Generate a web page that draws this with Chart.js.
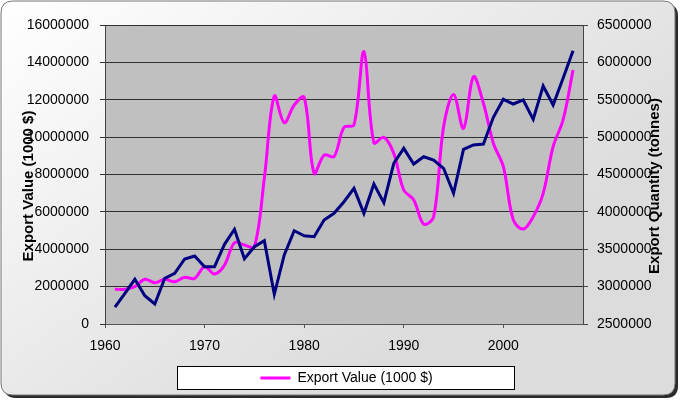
<!DOCTYPE html>
<html>
<head>
<meta charset="utf-8">
<script src="https://cdn.jsdelivr.net/npm/chart.js@4.4.1/dist/chart.umd.min.js"></script>
<style>
  html, body { margin: 0; padding: 0; background: #fff; }
  #wrap { width: 682px; height: 404px; }
</style>
</head>
<body>
<div id="wrap"><canvas id="grafica" width="682" height="404"></canvas></div>
<script>
// ── Datos ─────────────────────────────────────────────────────
const anios = [1961, 1962, 1963, 1964, 1965, 1966, 1967, 1968, 1969, 1970,
               1971, 1972, 1973, 1974, 1975, 1976, 1977, 1978, 1979, 1980,
               1981, 1982, 1983, 1984, 1985, 1986, 1987, 1988, 1989, 1990,
               1991, 1992, 1993, 1994, 1995, 1996, 1997, 1998, 1999, 2000,
               2001, 2002, 2003, 2004, 2005, 2006, 2007];

// Export Value (1000 $) – eje izquierdo
const valorExport = [1857000, 1860000, 1996000, 2390000, 2210000, 2390000, 2264000, 2499000, 2445000, 3066000,
                     2676000, 3150000, 4350000, 4230000, 4140000, 7800000, 12200000, 10770000, 11720000, 12130000,
                     8060000, 9040000, 8960000, 10530000, 10650000, 14570000, 9700000, 9990000, 9130000, 7170000,
                     6640000, 5350000, 5740000, 10560000, 12280000, 10470000, 13230000, 11810000, 9670000, 8420000,
                     5570000, 5080000, 5740000, 6990000, 9490000, 10920000, 13590000];

// Export Quantity (tonnes) – eje derecho
const cantidadExport = [2727000, 2911000, 3098000, 2879000, 2768000, 3111000, 3178000, 3370000, 3410000, 3267000,
                        3267000, 3566000, 3767000, 3374000, 3534000, 3614000, 2897000, 3423000, 3748000, 3681000,
                        3668000, 3891000, 3981000, 4136000, 4315000, 3981000, 4373000, 4123000, 4650000, 4850000,
                        4640000, 4738000, 4694000, 4583000, 4249000, 4837000, 4895000, 4908000, 5265000, 5506000,
                        5443000, 5497000, 5238000, 5684000, 5430000, 5787000, 6156000];

const etiquetaValor    = 'Export Value (1000 $)';
const etiquetaCantidad = 'Export Quantity (tonnes)';

const FUENTE = '"Liberation Sans", Arial, sans-serif';

// ── Fondo, área de gráfica y títulos ──────────────────────────
function rectRedondo(ctx, x, y, w, h, r) {
    ctx.beginPath();
    ctx.moveTo(x + r, y);
    ctx.lineTo(x + w - r, y);
    ctx.quadraticCurveTo(x + w, y, x + w, y + r);
    ctx.lineTo(x + w, y + h - r);
    ctx.quadraticCurveTo(x + w, y + h, x + w - r, y + h);
    ctx.lineTo(x + r, y + h);
    ctx.quadraticCurveTo(x, y + h, x, y + h - r);
    ctx.lineTo(x, y + r);
    ctx.quadraticCurveTo(x, y, x + r, y);
    ctx.closePath();
}

const pluginFondo = {
    id: 'fondo',
    beforeDraw(chart) {
        const { ctx, chartArea: a } = chart;
        ctx.save();
        ctx.fillStyle = '#fff';
        ctx.fillRect(0, 0, chart.width, chart.height);

        // sombra del marco
        rectRedondo(ctx, 4, 4, 674, 394, 12);
        ctx.fillStyle = '#2a2a2a';
        ctx.fill();

        // marco con degradado
        const g = ctx.createLinearGradient(0, 0, 300, 420);
        g.addColorStop(0, '#ffffff');
        g.addColorStop(1, '#dcdcdc');
        rectRedondo(ctx, 1, 1, 674, 394, 12);
        ctx.fillStyle = g;
        ctx.fill();
        ctx.strokeStyle = '#777';
        ctx.lineWidth = 1;
        ctx.stroke();

        // área de trazado
        ctx.fillStyle = '#c0c0c0';
        ctx.fillRect(a.left, a.top, a.right - a.left, a.bottom - a.top);
        ctx.strokeStyle = '#808080';
        ctx.strokeRect(a.left + 0.5, a.top + 0.5, a.right - a.left, a.bottom - a.top);

        // caja de la leyenda
        ctx.fillStyle = '#fff';
        ctx.fillRect(177, 366, 337, 23);
        ctx.strokeStyle = '#000';
        ctx.strokeRect(177.5, 366.5, 337, 23);
        ctx.restore();
    },
    afterDraw(chart) {
        const { ctx } = chart;
        ctx.save();
        ctx.fillStyle = '#000';
        ctx.font = `bold 15px ${FUENTE}`;
        ctx.textAlign = 'center';
        ctx.textBaseline = 'middle';

        ctx.translate(29, 186);
        ctx.rotate(-Math.PI / 2);
        ctx.fillText(etiquetaValor, 0, 0);
        ctx.setTransform(1, 0, 0, 1, 0, 0);

        ctx.translate(655, 186);
        ctx.rotate(-Math.PI / 2);
        ctx.fillText(etiquetaCantidad, 0, 0);
        ctx.restore();
    }
};

// ── Gráfica ───────────────────────────────────────────────────
const puntosValor    = anios.map((a, i) => ({ x: a, y: valorExport[i] }));
const puntosCantidad = anios.map((a, i) => ({ x: a, y: cantidadExport[i] }));

new Chart(document.getElementById('grafica').getContext('2d'), {
    type: 'line',
    data: {
        datasets: [
            {
                label: etiquetaValor,
                data: puntosValor,
                yAxisID: 'y',
                borderColor: '#ff00ff',
                backgroundColor: '#ff00ff',
                borderWidth: 3,
                pointRadius: 0,
                tension: 0.35,
                order: 1,
            },
            {
                label: etiquetaCantidad,
                data: puntosCantidad,
                yAxisID: 'y1',
                borderColor: '#000080',
                backgroundColor: '#000080',
                borderWidth: 3,
                pointRadius: 0,
                tension: 0,
                order: 0,
            }
        ]
    },
    options: {
        responsive: false,
        animation: false,
        layout: { padding: { left: 11, right: 0, top: 25, bottom: 9 } },
        plugins: {
            tooltip: { enabled: false },
            legend: {
                position: 'bottom',
                labels: {
                    filter: item => item.datasetIndex === 0,
                    usePointStyle: true,
                    pointStyle: 'line',
                    pointStyleWidth: 30,
                    padding: 10,
                    color: '#000',
                    font: { family: FUENTE, size: 14 },
                }
            }
        },
        scales: {
            x: {
                type: 'linear',
                min: 1960,
                max: 2008,
                afterFit: s => { s.height = 37; },
                ticks: {
                    stepSize: 10,
                    includeBounds: false,
                    padding: 10,
                    color: '#000',
                    font: { family: FUENTE, size: 14 },
                    callback: v => String(v),
                },
                grid: { drawOnChartArea: false, tickLength: 4, color: '#555' },
                border: { color: '#555' },
            },
            y: {
                position: 'left',
                min: 0,
                max: 16000000,
                afterFit: s => { s.width = 94; },
                ticks: {
                    stepSize: 2000000,
                    padding: 11,
                    color: '#000',
                    font: { family: FUENTE, size: 14 },
                    callback: v => String(v),
                },
                grid: { color: '#303030', tickLength: 5 },
                border: { color: '#444' },
            },
            y1: {
                position: 'right',
                min: 2500000,
                max: 6500000,
                afterFit: s => { s.width = 99; },
                ticks: {
                    stepSize: 500000,
                    padding: 9,
                    color: '#000',
                    font: { family: FUENTE, size: 14 },
                    callback: v => String(v),
                },
                grid: { drawOnChartArea: false, color: '#444', tickLength: 5 },
                border: { color: '#444' },
            }
        }
    },
    plugins: [pluginFondo]
});
</script>
</body>
</html>
